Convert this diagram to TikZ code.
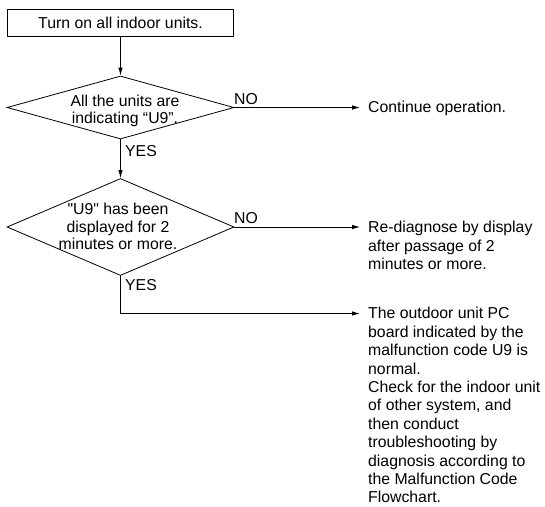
\documentclass[tikz,border=0pt]{standalone}
\usepackage{fontspec}
\setmainfont{Liberation Sans}[Ligatures=TeXOff]
\usetikzlibrary{arrows.meta,shapes.geometric}
\tikzset{
  line/.style={line width=0.8pt},
  arr/.style={line, -{Latex[length=8pt,width=4.5pt]}},
  dia/.style={diamond, draw, line width=0.8pt, inner sep=0pt, minimum width=227pt},
  txt/.style={inner sep=0pt, anchor=base west, font=\fontsize{15.8}{18.6}\selectfont},
  dtxt/.style={inner sep=0pt, anchor=base, font=\fontsize{15.8}{17.6}\selectfont},
  lbl/.style={inner sep=0pt, anchor=base west, font=\fontsize{15.8}{18.6}\selectfont},
}
\begin{document}
\begin{tikzpicture}[x=1pt,y=-1pt]
\useasboundingbox (0,0) rectangle (545,506);
% start box
\node[draw, line width=0.8pt, minimum width=226pt, minimum height=27pt, inner sep=0pt,
      font=\fontsize{15.8}{18.6}\selectfont] (start) at (120.5,22.5) {Turn on all indoor units.};
% diamonds
\node[dia, minimum height=63pt] (d1) at (120.5,107.5) {};
\node[dtxt] (d1t) at (125,106) {\begin{tabular}[t]{@{}c@{}}All the units are\\indicating “U9”.\end{tabular}};
\node[dia, minimum height=97pt] (d2) at (120.5,227) {};
\node[dtxt] (d2t) at (118,214.5) {\begin{tabular}[t]{@{}c@{}}"U9" has been\\displayed for 2\\minutes or more.\end{tabular}};
% outcome texts
\node[txt] (cont) at (368,112.8) {\begin{tabular}[t]{@{}l@{}}Continue operation.\end{tabular}};
\node[txt] (rediag) at (368,232.6) {\begin{tabular}[t]{@{}l@{}}Re-diagnose by display\\after passage of 2\\minutes or more.\end{tabular}};
\node[inner sep=0pt, anchor=south west, align=left, font=\fontsize{15.8}{18.4}\selectfont] (normal) at (368,503.2) {The outdoor unit PC\\board indicated by the\\malfunction code U9 is\\normal.\\Check for the indoor unit\\of other system, and\\then conduct\\troubleshooting by\\diagnosis according to\\the Malfunction Code\\Flowchart.};
% labels
\node[lbl] (no1) at (234,104.3) {NO};
\node[lbl] (no2) at (234,223.3) {NO};
\node[lbl] (yes1) at (125,156.8) {YES};
\node[lbl] (yes2) at (125,290.7) {YES};
% connectors
\coordinate (turn) at (120.5,313.5);
\draw[arr] (start.south) -- (d1.north);
\draw[arr] (d1.south) -- (d2.north);
\draw[arr] (d1.east) -- ([xshift=-8pt]cont.west |- d1.east);
\draw[arr] (d2.east) -- ([xshift=-8pt]rediag.west |- d2.east);
\draw[arr] (d2.south) -- (turn) -- ([xshift=-8pt]normal.west |- turn);
\end{tikzpicture}
\end{document}
